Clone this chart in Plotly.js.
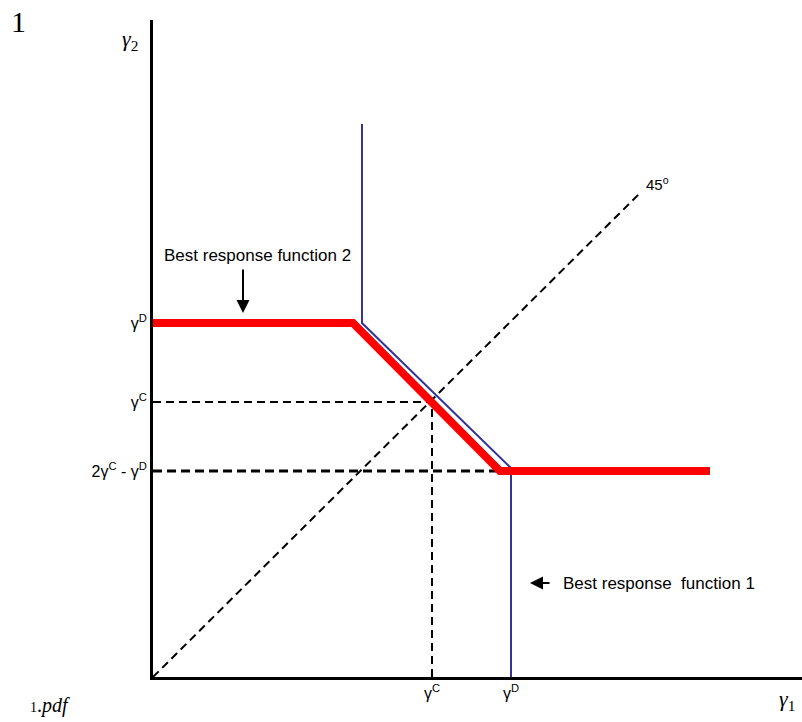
<!DOCTYPE html>
<html>
<head>
<meta charset="utf-8">
<script src="https://cdn.plot.ly/plotly-3.0.1.min.js"></script>
<style>
  html, body { margin: 0; padding: 0; background: #ffffff; }
  #chart { width: 802px; height: 722px; }
</style>
</head>
<body>
<div id="chart"></div>
<script>
// best response function 2 (thick red)
const redX = [0, 20.0, 34.7, 55.7];
const redY = [35.4, 35.4, 20.6, 20.6];
// best response function 1 (thin blue)
const blueX = [20.9, 20.9, 35.8, 35.8];
const blueY = [55.3, 35.4, 20.9, 0];
// 45 degree line
const diagX = [0, 48.6];
const diagY = [0, 48.3];
// guide lines to gamma C and to 2gammaC - gammaD
const gcX = [0, 27.9, 27.9];
const gcY = [27.5, 27.5, 0];
const lowX = [0, 34.7];
const lowY = [20.6, 20.6];

const yTickVals = [35.4, 27.5, 20.6];
const yTickText = ['γ<sup>D</sup>', 'γ<sup>C</sup>', '2γ<sup>C</sup> - γ<sup>D</sup>'];
const xTickVals = [27.9, 35.8];
const xTickText = ['γ<sup>C</sup>', 'γ<sup>D</sup>'];

const sans = 'Liberation Sans, Arial, sans-serif';
const serif = 'Liberation Serif, Times New Roman, serif';

const traces = [
  {
    x: diagX, y: diagY, type: 'scatter', mode: 'lines',
    line: { color: '#000000', width: 2, dash: '8px,5px' },
    hoverinfo: 'skip',
  },
  {
    x: gcX, y: gcY, type: 'scatter', mode: 'lines',
    line: { color: '#000000', width: 2, dash: '8px,5px' },
    hoverinfo: 'skip',
  },
  {
    x: lowX, y: lowY, type: 'scatter', mode: 'lines',
    line: { color: '#000000', width: 3, dash: '9px,5px' },
    hoverinfo: 'skip',
  },
  {
    x: blueX, y: blueY, type: 'scatter', mode: 'lines',
    line: { color: '#333399', width: 2 },
    hoverinfo: 'skip',
  },
  {
    x: redX, y: redY, type: 'scatter', mode: 'lines',
    line: { color: '#ff0000', width: 8 },
    hoverinfo: 'skip',
  },
];

// paper-positioned labels need explicit anchors, otherwise plotly picks edges
function paperText(x, y, text, font) {
  return {
    xref: 'paper', yref: 'paper', x: x, y: y,
    xanchor: 'center', yanchor: 'middle',
    text: text, showarrow: false, font: font,
  };
}

const layout = {
  width: 802,
  height: 722,
  showlegend: false,
  margin: { l: 153, r: 0, t: 20, b: 45 },
  paper_bgcolor: '#ffffff',
  plot_bgcolor: '#ffffff',
  xaxis: {
    range: [0, 64.9],
    showgrid: false,
    zeroline: false,
    showline: true,
    linecolor: '#000000',
    linewidth: 3,
    ticks: '',
    tickvals: xTickVals,
    ticktext: xTickText,
    tickfont: { family: sans, size: 16, color: '#000000' },
    fixedrange: true,
  },
  yaxis: {
    range: [0, 65.7],
    showgrid: false,
    zeroline: false,
    showline: true,
    linecolor: '#000000',
    linewidth: 3,
    ticks: '',
    tickvals: yTickVals,
    ticktext: yTickText,
    tickfont: { family: sans, size: 16, color: '#000000' },
    fixedrange: true,
  },
  annotations: [
    paperText(-0.207, 0.997, '1', { family: serif, size: 30, color: '#000000' }),
    paperText(-0.035, 0.970, '<i>γ</i><sub>2</sub>', { family: serif, size: 22, color: '#000000' }),
    paperText(0.977, -0.035, '<i>γ</i><sub>1</sub>', { family: serif, size: 22, color: '#000000' }),
    paperText(-0.158, -0.044, '<span style="font-size:14px">1</span>.<i>pdf</i>',
      { family: serif, size: 20, color: '#000000' }),
    {
      x: 10.45, y: 42.2,
      text: 'Best response function 2', showarrow: false,
      font: { family: sans, size: 17, color: '#000000' },
    },
    {
      x: 9.0, y: 36.4, ax: 0, ay: -45,
      text: '', showarrow: true,
      arrowhead: 2, arrowsize: 1.3, arrowwidth: 2, arrowcolor: '#000000',
    },
    {
      x: 50.6, y: 9.4,
      text: 'Best response  function 1', showarrow: false,
      font: { family: sans, size: 17, color: '#000000' },
    },
    {
      x: 37.7, y: 9.4, ax: 21, ay: 0,
      text: '', showarrow: true,
      arrowhead: 2, arrowsize: 1.3, arrowwidth: 2, arrowcolor: '#000000',
    },
    {
      x: 50.4, y: 49.4,
      text: '45<sup>o</sup>', showarrow: false,
      font: { family: sans, size: 15, color: '#000000' },
    },
  ],
};

Plotly.newPlot('chart', traces, layout, { displayModeBar: false, staticPlot: true });
</script>
</body>
</html>
